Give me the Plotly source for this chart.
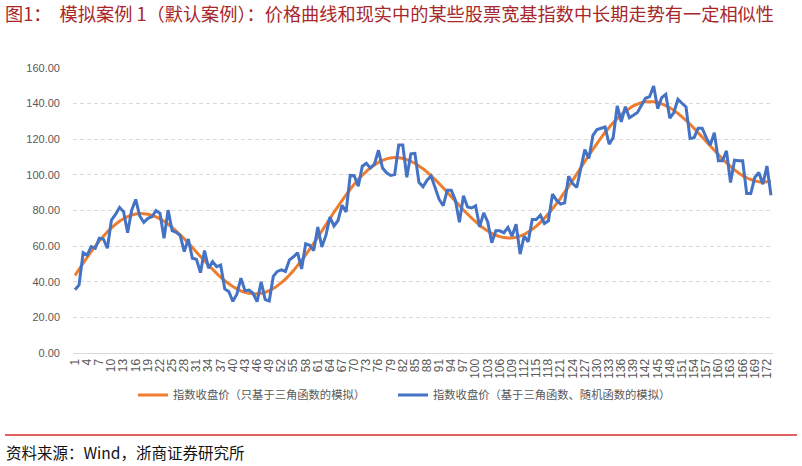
import plotly.graph_objects as go

# ---- data ----
periods = list(range(1, 174))  # 1..173
tick_labels = [str(p) for p in periods if (p - 1) % 3 == 0]
tick_positions = [p for p in periods if (p - 1) % 3 == 0]

trig_only = [
    43.5, 47.0, 50.4, 53.7, 56.9, 59.9, 62.8, 65.5, 68.0, 70.2,
    72.2, 74.0, 75.4, 76.6, 77.4, 78.0, 78.3, 78.2, 77.9, 77.3,
    76.4, 75.3, 73.9, 72.3, 70.5, 68.5, 66.3, 64.1, 61.7, 59.2,
    56.7, 54.2, 51.8, 49.3, 47.0, 44.7, 42.6, 40.6, 38.9, 37.3,
    36.0, 34.9, 34.0, 33.5, 33.2, 33.2, 33.5, 34.1, 35.0, 36.2,
    37.7, 39.5, 41.5, 43.8, 46.3, 49.1, 52.0, 55.1, 58.3, 61.6,
    65.0, 68.5, 72.0, 75.5, 79.0, 82.3, 85.6, 88.8, 91.9, 94.7,
    97.4, 99.8, 102.0, 104.0, 105.6, 107.0, 108.2, 109.0, 109.5, 109.7,
    109.6, 109.2, 108.6, 107.6, 106.5, 105.0, 103.4, 101.6, 99.5, 97.4,
    95.1, 92.7, 90.2, 87.7, 85.2, 82.8, 80.3, 78.0, 75.8, 73.7,
    71.7, 70.0, 68.5, 67.2, 66.1, 65.3, 64.8, 64.6, 64.6, 65.0,
    65.7, 66.6, 67.9, 69.4, 71.2, 73.3, 75.6, 78.2, 81.0, 83.9,
    87.0, 90.3, 93.6, 97.0, 100.5, 104.0, 107.5, 111.0, 114.3, 117.6,
    120.8, 123.8, 126.6, 129.2, 131.6, 133.8, 135.7, 137.3, 138.7, 139.7,
    140.5, 141.0, 141.1, 141.0, 140.6, 139.9, 138.9, 137.7, 136.2, 134.5,
    132.6, 130.6, 128.4, 126.1, 123.7, 121.2, 118.7, 116.2, 113.8, 111.4,
    109.0, 106.8, 104.8, 102.8, 101.1, 99.6, 98.4, 97.4, 96.6, 96.1,
    96.0, 96.1, 96.5,
]

trig_random = [
    35.5, 38.2, 56.3, 55.0, 59.7, 58.8, 64.4, 64.0, 58.8, 74.6,
    77.8, 81.7, 79.3, 67.5, 80.2, 86.2, 76.9, 73.3, 75.6, 76.5,
    79.9, 78.4, 64.4, 80.2, 68.7, 67.7, 65.9, 56.9, 64.0, 53.2,
    52.6, 45.1, 57.5, 47.6, 51.3, 48.5, 49.4, 36.0, 34.5, 29.0,
    33.0, 42.0, 35.0, 35.3, 33.5, 28.8, 40.0, 30.0, 29.2, 43.0,
    45.8, 46.7, 45.8, 52.3, 54.0, 56.3, 47.2, 61.3, 60.5, 57.5,
    70.7, 59.5, 66.0, 76.3, 71.3, 74.4, 83.0, 79.2, 99.7, 99.5,
    93.6, 104.9, 106.5, 103.8, 106.1, 113.8, 103.8, 101.2, 99.7, 100.2,
    116.8, 116.8, 98.6, 111.8, 112.1, 95.8, 93.3, 97.0, 99.3, 92.8,
    86.2, 82.7, 91.4, 91.4, 85.8, 73.4, 88.3, 82.0, 81.4, 82.6,
    70.8, 78.7, 73.6, 61.9, 68.6, 68.6, 67.5, 70.5, 65.6, 72.3,
    55.5, 65.6, 62.4, 75.0, 75.0, 77.4, 72.7, 74.2, 89.2, 85.8,
    83.6, 84.3, 99.3, 95.1, 92.9, 103.6, 114.2, 109.2, 122.2, 125.5,
    126.2, 126.9, 117.2, 120.9, 138.7, 129.7, 138.3, 132.1, 133.5, 135.0,
    139.1, 143.0, 143.9, 149.9, 137.2, 143.4, 145.2, 131.8, 135.0, 142.4,
    140.2, 138.1, 120.4, 120.9, 126.2, 126.2, 120.9, 116.8, 123.7, 107.9,
    107.9, 113.5, 95.7, 108.2, 107.9, 107.9, 89.5, 89.5, 98.5, 101.3,
    94.8, 105.0, 88.6,
]

y_ticks = [0, 20, 40, 60, 80, 100, 120, 140, 160]
y_tick_labels = ["0.00", "20.00", "40.00", "60.00", "80.00", "100.00", "120.00", "140.00", "160.00"]

series_names = ["指数收盘价（只基于三角函数的模拟）", "指数收盘价（基于三角函数、随机函数的模拟）"]
title_text = "图1：  模拟案例 1（默认案例）：价格曲线和现实中的某些股票宽基指数中长期走势有一定相似性"
source_text = "资料来源：Wind，浙商证券研究所"

# ---- figure ----
W, H = 802, 466
L, R, T, B = 73, 29, 68, 113
pw, ph = W - L - R, H - T - B

def px_to_paper_x(px):
    return (px - L) / pw

def py_to_paper_y(py):
    return (H - B - py) / ph

CJK = "Noto Sans CJK SC"
NUM = "Liberation Sans, Arial"
GRAY = "#595959"

fig = go.Figure()
fig.add_trace(go.Scatter(
    x=periods, y=trig_only, mode="lines", name=series_names[0],
    line=dict(color="#ED7D31", width=3, shape="spline", smoothing=0.6),
    legend="legend", showlegend=True,
))
fig.add_trace(go.Scatter(
    x=periods, y=trig_random, mode="lines", name=series_names[1],
    line=dict(color="#4472C4", width=3),
    legend="legend2", showlegend=True,
))

fig.update_layout(
    width=W, height=H, showlegend=True,
    margin=dict(l=L, r=R, t=T, b=B, autoexpand=False),
    paper_bgcolor="white", plot_bgcolor="white",
    title=dict(text=title_text, xref="container", yref="container",
               x=5 / W, xanchor="left", y=1 - 15 / H, yanchor="middle",
               font=dict(family=CJK, size=18.2, color="#A8272B")),
    xaxis=dict(
        range=[0.5, 173.5], tickmode="array", tickvals=tick_positions, ticktext=tick_labels,
        tickangle=-90, showgrid=False, zeroline=False, showline=True,
        linecolor="#D9D9D9", linewidth=1, ticks="",
        tickfont=dict(family=NUM, size=12, color=GRAY),
    ),
    yaxis=dict(
        range=[0, 160], tickmode="array", tickvals=y_ticks, ticktext=y_tick_labels,
        showgrid=True, gridcolor="#D9D9D9", gridwidth=1, griddash="4px,3px",
        zeroline=False, showline=False, ticks="", ticklabelstandoff=12,
        tickfont=dict(family=NUM, size=11, color=GRAY),
    ),
    legend=dict(orientation="h", x=px_to_paper_x(133), y=py_to_paper_y(395),
                xanchor="left", yanchor="middle", bgcolor="rgba(0,0,0,0)",
                font=dict(family=CJK, size=11.3, color=GRAY)),
    legend2=dict(orientation="h", x=px_to_paper_x(393), y=py_to_paper_y(395),
                 xanchor="left", yanchor="middle", bgcolor="rgba(0,0,0,0)",
                 font=dict(family=CJK, size=11.3, color=GRAY)),
    shapes=[dict(type="line", xref="paper", yref="paper",
                 x0=px_to_paper_x(5), x1=px_to_paper_x(797),
                 y0=py_to_paper_y(435), y1=py_to_paper_y(435),
                 line=dict(color="#E06060", width=2))],
    annotations=[dict(text=source_text, xref="paper", yref="paper",
                      x=px_to_paper_x(4), y=py_to_paper_y(452),
                      xanchor="left", yanchor="middle", showarrow=False,
                      font=dict(family=CJK, size=15.5, color="#111111"))],
)

fig.write_html("out.html", config={"displayModeBar": False},
               post_script="document.body.style.margin='0px';")
